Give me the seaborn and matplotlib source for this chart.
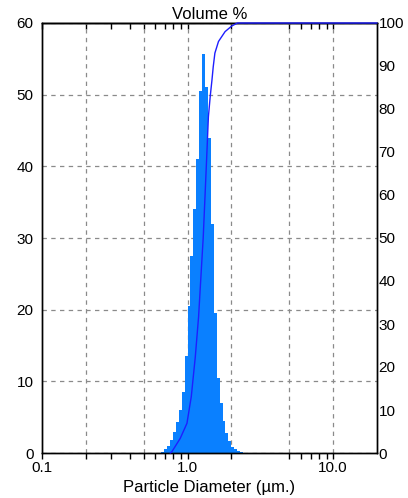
import numpy as np
import pandas as pd
import matplotlib
matplotlib.use("Agg")
import matplotlib.pyplot as plt
import seaborn as sns
from matplotlib.ticker import FixedLocator, FixedFormatter, NullFormatter

# ---------------- data ----------------
# histogram bins (centre diameter, µm) and volume in each bin (%)
size_um = [0.676, 0.708, 0.741, 0.776, 0.813, 0.851, 0.891, 0.933, 0.977,
           1.023, 1.072, 1.122, 1.175, 1.230, 1.288, 1.349, 1.413, 1.479,
           1.549, 1.622, 1.698, 1.778, 1.862, 1.950, 2.042, 2.138, 2.239, 2.344]
volume_pct = [0.2, 0.5, 1.0, 1.8, 2.9, 4.3, 6.0, 8.5, 13.5,
              20.5, 27.5, 34.0, 41.0, 50.5, 55.7, 51.0, 44.0, 32.0,
              19.5, 10.5, 7.0, 4.5, 2.8, 1.7, 0.9, 0.5, 0.25, 0.1]

# cumulative volume curve (right axis)
cum_size_um = [0.76, 0.78, 0.89, 0.99, 1.06, 1.13, 1.19, 1.25, 1.28, 1.32,
               1.35, 1.39, 1.43, 1.47, 1.50, 1.54, 1.63, 1.81, 2.01, 2.20, 20.0]
cum_pct = [0.0, 0.3, 3.4, 6.9, 13.1, 22.4, 31.7, 44.1, 50.0, 60.4,
           68.0, 78.2, 82.9, 86.7, 89.8, 93.0, 95.7, 98.0, 99.3, 100.0, 100.0]

x_major = [0.1, 1.0, 10.0]
x_major_labels = ["0.1", "1.0", "10.0"]
x_minor = [0.2, 0.3, 0.4, 0.5, 0.6, 0.7, 0.8, 0.9, 2, 5, 6, 7, 8, 9]
x_grid = [0.2, 0.5, 1.0, 2.0, 5.0, 10.0]
left_ticks = [0, 10, 20, 30, 40, 50, 60]
right_ticks = [0, 10, 20, 30, 40, 50, 60, 70, 80, 90, 100]

# ---------------- style ----------------
sns.set_theme(style="white")
plt.rcParams["font.family"] = ["Liberation Sans", "DejaVu Sans"]
plt.rcParams["axes.edgecolor"] = "black"
plt.rcParams["axes.linewidth"] = 1.0

FILL = "#0A80FF"
LINE = "#1E1EFF"
GRID = "#8a8a8a"
DASH = (0, (3.5, 3.5))

fig = plt.figure(figsize=(4.08, 4.98), dpi=100)
fig.patch.set_facecolor("white")
ax = fig.add_axes([42 / 408, 45 / 498, 335 / 408, 430 / 498])
ax.set_facecolor("white")

hist_df = pd.DataFrame({"size": size_um, "vol": volume_pct})
sns.histplot(data=hist_df, x="size", weights="vol", log_scale=True,
             bins=28, binrange=(-0.18, 0.38), stat="count",
             element="step", fill=True, color=FILL, alpha=1.0,
             linewidth=0, ax=ax, zorder=2)

# cumulative curve
ax2 = ax.twinx()
cum_df = pd.DataFrame({"size": cum_size_um, "cum": cum_pct})
sns.lineplot(data=cum_df, x="size", y="cum", color=LINE, linewidth=1.0,
             ax=ax2, estimator=None, sort=False, zorder=3, clip_on=False)

ax.set_xlim(0.1, 20)
ax.set_ylim(0, 60)
ax2.set_ylim(0, 100)
ax.set_ylabel("")
ax2.set_ylabel("")
ax.set_xlabel("Particle Diameter (\u00b5m.)", fontsize=12, color="black", labelpad=3)

# grid
ax.set_axisbelow(True)
ax.yaxis.grid(True, linestyle=DASH, color=GRID, linewidth=0.9, zorder=0.5)
for gx in x_grid:
    ax.axvline(gx, linestyle=DASH, color=GRID, linewidth=0.9, zorder=0.5)

# top tick marks (inward)
sec = ax.secondary_xaxis("top")

# ticks (set last so nothing resets them)
ax.xaxis.set_major_locator(FixedLocator(x_major))
ax.xaxis.set_major_formatter(FixedFormatter(x_major_labels))
ax.xaxis.set_minor_locator(FixedLocator(x_minor))
ax.xaxis.set_minor_formatter(NullFormatter())
ax.tick_params(axis="x", which="both", direction="out", length=4, width=1,
               color="black", labelsize=11, labelcolor="black", pad=2,
               bottom=True, top=False)
ax.set_yticks(left_ticks)
ax.tick_params(axis="y", which="both", length=0, labelsize=11,
               labelcolor="black", pad=6)

sec.xaxis.set_major_locator(FixedLocator(x_major))
sec.xaxis.set_minor_locator(FixedLocator(x_minor))
sec.xaxis.set_major_formatter(NullFormatter())
sec.xaxis.set_minor_formatter(NullFormatter())
sec.tick_params(axis="x", which="both", direction="in", length=4, width=1,
                color="black", labeltop=False)

ax2.set_yticks(right_ticks)
ax2.tick_params(axis="y", which="both", length=0, labelsize=11,
                labelcolor="black", pad=1)

for a in (ax, ax2):
    for s in a.spines.values():
        s.set_color("black")
        s.set_linewidth(1.0)

ax.text(0.5, 1.009, "Volume %", transform=ax.transAxes, ha="center",
        va="baseline", fontsize=12, color="black")

fig.savefig("out.png", dpi=100, facecolor="white")
